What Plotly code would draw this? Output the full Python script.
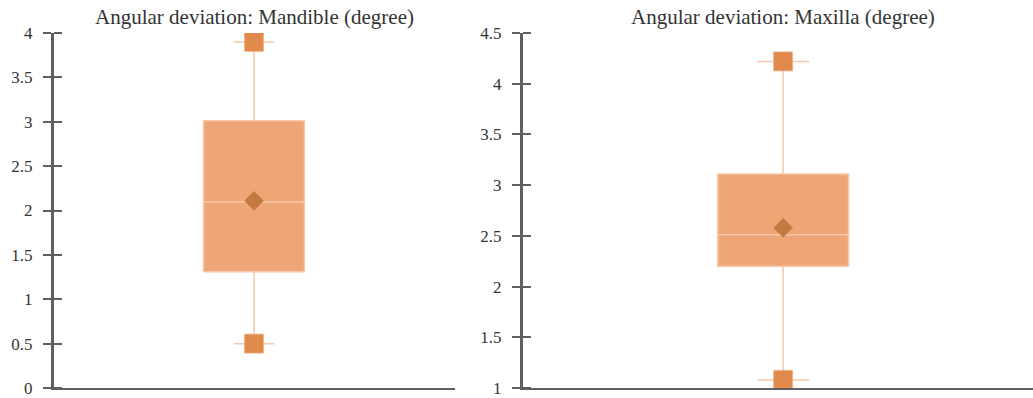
import plotly.graph_objects as go

# summary stats (degrees)
panels = ['Mandible', 'Maxilla']
q1 = [1.31, 2.2]
median = [2.1, 2.51]
q3 = [3.01, 3.11]
lower = [0.5, 1.08]
upper = [3.9, 4.22]
mean = [2.11, 2.58]

yranges = [[0, 4], [1, 4.5]]
xranges = [[-0.5, 0.5], [-0.511, 0.489]]
widths = [0.251, 0.256]

box_fill = '#EEA677'
box_line = '#F6C8AB'
end_color = '#E08B4B'
mean_color = '#C27A40'
axis_color = '#5f5f5f'
font = dict(family='Liberation Serif', size=17, color='#333333')
title_font = dict(family='Liberation Serif', size=21, color='#333333')

fig = go.Figure()

for i, name in enumerate(panels):
    xa = 'x' if i == 0 else 'x2'
    ya = 'y' if i == 0 else 'y2'
    fig.add_trace(go.Box(x=[0], q1=[q1[i]], median=[median[i]], q3=[q3[i]],
                         lowerfence=[lower[i]], upperfence=[upper[i]],
                         width=widths[i], whiskerwidth=0.4,
                         fillcolor=box_fill, line=dict(color=box_line, width=1.5),
                         xaxis=xa, yaxis=ya, showlegend=False, hoverinfo='skip'))
    fig.add_trace(go.Scatter(x=[0, 0], y=[lower[i], upper[i]], mode='markers',
                             marker=dict(symbol='square', size=19, color=end_color,
                                         line=dict(color='#F0B48A', width=0.8)),
                             xaxis=xa, yaxis=ya, showlegend=False, hoverinfo='skip'))
    fig.add_trace(go.Scatter(x=[0], y=[mean[i]], mode='markers',
                             marker=dict(symbol='diamond', size=15, color=mean_color),
                             xaxis=xa, yaxis=ya, showlegend=False, hoverinfo='skip'))
    # dummy traces so the overlay axes (inner half of the ticks) get drawn
    fig.add_trace(go.Scatter(x=[0], y=[None], xaxis=xa, yaxis='y3' if i == 0 else 'y4',
                             showlegend=False, hoverinfo='skip'))

ydom = [10 / 398, 365 / 398]
yaxis_common = dict(domain=ydom, showgrid=False, zeroline=False, showline=True,
                    linecolor=axis_color, linewidth=2, ticks='outside', ticklen=8,
                    tickwidth=1.5, tickcolor=axis_color, dtick=0.5, tickfont=font,
                    ticklabelstandoff=7, ticklabeloverflow='allow', automargin=False)
# right-side overlay axes sitting on the left axis line give the inner half of the ticks
inner_common = dict(domain=ydom, showgrid=False, zeroline=False, showline=True,
                    linecolor=axis_color, linewidth=2,
                    side='right', anchor='free', ticks='outside', ticklen=8,
                    tickwidth=1.5, tickcolor=axis_color, dtick=0.5, showticklabels=False,
                    automargin=False)
xaxis_common = dict(showgrid=False, zeroline=False, showline=True, linecolor=axis_color,
                    linewidth=2, showticklabels=False, ticks='', automargin=False)

fig.update_layout(
    width=1033, height=398,
    margin=dict(l=0, r=0, t=0, b=0, pad=0),
    plot_bgcolor='white', paper_bgcolor='white',
    font=font,
    xaxis=dict(xaxis_common, domain=[53 / 1033, 455 / 1033], range=xranges[0], anchor='y'),
    xaxis2=dict(xaxis_common, domain=[522 / 1033, 1], range=xranges[1], anchor='y2'),
    yaxis=dict(yaxis_common, range=yranges[0], anchor='x'),
    yaxis2=dict(yaxis_common, range=yranges[1], anchor='x2'),
    yaxis3=dict(inner_common, range=yranges[0], overlaying='y', position=53 / 1033),
    yaxis4=dict(inner_common, range=yranges[1], overlaying='y2', position=522 / 1033),
    annotations=[
        dict(text='Angular deviation: Mandible (degree)', x=254 / 1033, y=1 - 17 / 398,
             xref='paper', yref='paper', showarrow=False, font=title_font,
             xanchor='center', yanchor='middle'),
        dict(text='Angular deviation: Maxilla (degree)', x=783 / 1033, y=1 - 17 / 398,
             xref='paper', yref='paper', showarrow=False, font=title_font,
             xanchor='center', yanchor='middle'),
    ],
)

fig.write_html('out.html', config={'displayModeBar': False},
               post_script="document.body.style.margin='0';")
